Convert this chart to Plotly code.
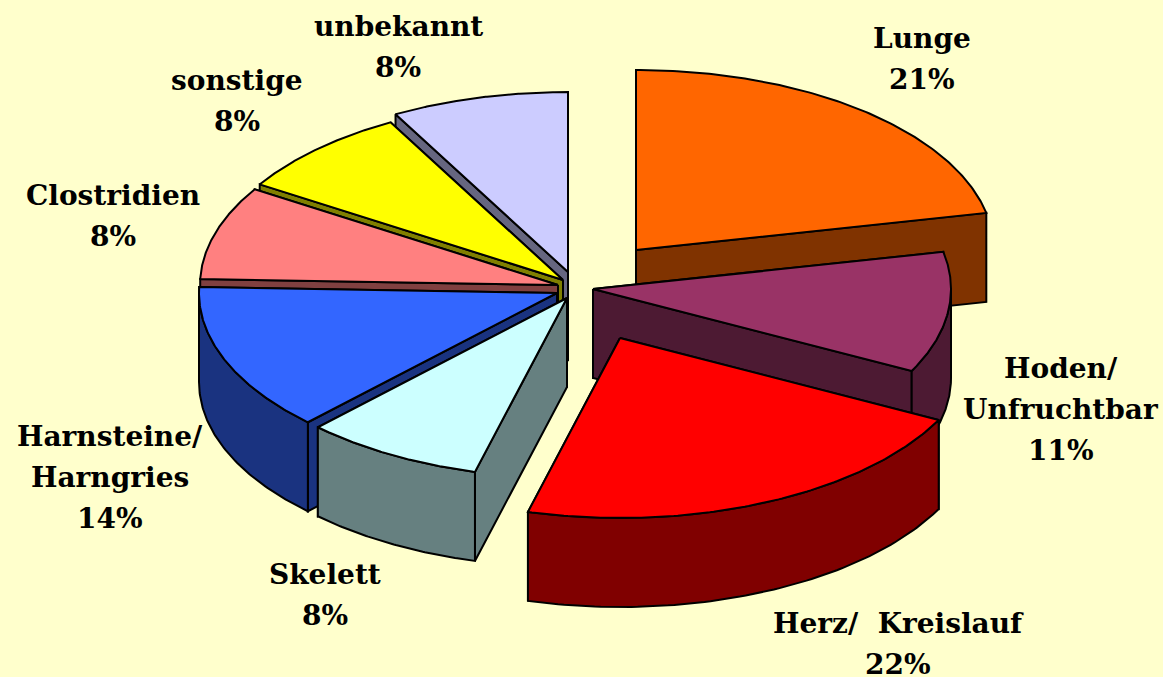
import numpy as np
import plotly.graph_objects as go

categories = ["Lunge", "Hoden/ Unfruchtbar", "Herz/ Kreislauf", "Skelett",
              "Harnsteine/ Harngries", "Clostridien", "sonstige", "unbekannt"]
values = [21, 11, 22, 8, 14, 8, 8, 8]
top_colors = ["#FF6600", "#993366", "#FF0000", "#CCFFFF",
              "#3366FF", "#FF8080", "#FFFF00", "#CCCCFF"]
side_colors = ["#803300", "#4D1A33", "#800000", "#668080",
               "#1A3380", "#804040", "#808000", "#666680"]
label_lines = [["Lunge"], ["Hoden/", "Unfruchtbar"], ["Herz/  Kreislauf"], ["Skelett"],
               ["Harnsteine/", "Harngries"], ["Clostridien"], ["sonstige"], ["unbekannt"]]

# projection of the tilted pie and explosion of each slice (layout, in pixels)
RX, RY, DEPTH = 358, 180, 89
apex = [(636, 250), (593, 289), (620, 338), (567, 298),
        (557, 293), (558, 285), (563, 280), (568, 272)]
# small perspective bend of each slice boundary, in degrees
perspective_deg = [0, 2.5, 1.9, 0.5, 0.9, -1.7, -0.3, 0, 0]
label_pos = [(922, 38), (1061, 368), (898, 623), (325, 574),
             (110, 436), (113, 195), (237, 80), (398, 26)]
line_gap = 41
draw_order = [0, 1, 2, 7, 6, 5, 4, 3]

cum = np.concatenate([[0], np.cumsum(values)]) / sum(values) * 2 * np.pi
cum = cum + np.radians(perspective_deg)


def rim(i, a):
    return apex[i][0] + RX * np.sin(a), apex[i][1] - RY * np.cos(a)


fig = go.Figure()


def poly(x, y, color):
    x = list(x)
    y = list(y)
    fig.add_trace(go.Scatter(x=x + x[:1], y=y + y[:1], mode="lines", fill="toself",
                             fillcolor=color, line=dict(color="black", width=2),
                             hoverinfo="skip", showlegend=False))


for i in draw_order:
    a0, a1 = cum[i], cum[i + 1]
    cx, cy = apex[i]
    side = side_colors[i]
    # radial walls, the one nearer the viewer last
    for a in sorted((a0, a1), key=lambda v: rim(i, v)[1]):
        rx, ry = rim(i, a)
        poly([cx, rx, rx, cx], [cy, ry, ry + DEPTH, cy + DEPTH], side)
    # outer wall: only the front half of the rim is visible
    lo, hi = max(a0, np.pi / 2), min(a1, 3 * np.pi / 2)
    if hi > lo:
        t = np.linspace(lo, hi, 80)
        xs, ys = rim(i, t)
        poly(np.concatenate([xs, xs[::-1]]), np.concatenate([ys, ys[::-1] + DEPTH]), side)
    # top face
    t = np.linspace(a0, a1, 120)
    xs, ys = rim(i, t)
    poly(np.concatenate([[cx], xs]), np.concatenate([[cy], ys]), top_colors[i])

for i, lines in enumerate(label_lines):
    x, y = label_pos[i]
    texts = lines + [f"{values[i]}%"]
    for k, s in enumerate(texts):
        fig.add_annotation(x=x, y=y + k * line_gap, text=f"<b>{s}</b>", showarrow=False,
                           xanchor="center", yanchor="middle",
                           font=dict(family="DejaVu Serif", size=28, color="black"))

fig.update_layout(width=1163, height=677, margin=dict(l=0, r=0, t=0, b=0),
                  paper_bgcolor="#FFFFCC", plot_bgcolor="#FFFFCC",
                  xaxis=dict(range=[0, 1163], visible=False, fixedrange=True),
                  yaxis=dict(range=[677, 0], visible=False, fixedrange=True))
fig.write_html("out.html", config=dict(displayModeBar=False),
               post_script="document.body.style.margin='0';"
                           "document.body.style.background='#FFFFCC';"
                           "document.documentElement.style.overflow='hidden';")
